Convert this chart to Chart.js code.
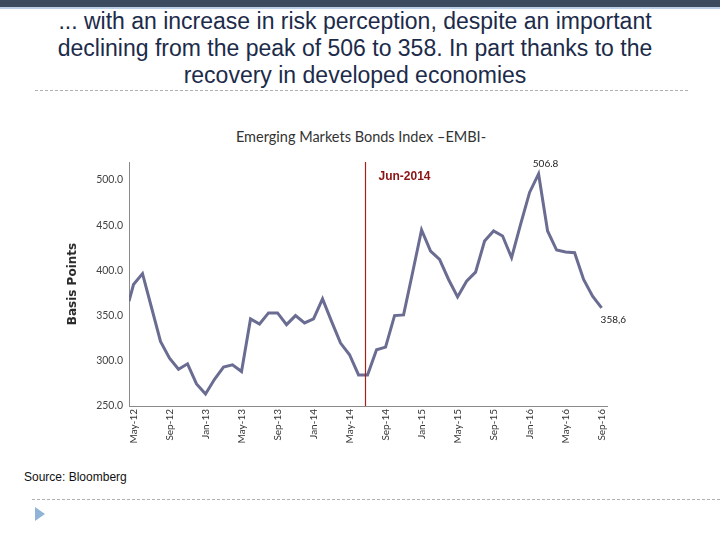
<!DOCTYPE html>
<html lang="en">
<head>
  <meta charset="UTF-8">
  <title>EMBI</title>
  <script src="https://cdn.jsdelivr.net/npm/chart.js"></script>
  <style>
    body { margin: 0; width: 720px; height: 540px; background: #fff; position: relative; overflow: hidden; }
    .topbar { position: absolute; left: 0; top: 0; width: 720px; height: 7px; background: #3d4b5f; border-bottom: 2px solid #b9d0e6; }
    .heading { position: absolute; left: 0; top: 8px; width: 710px; text-align: center;
      font: 23px "Liberation Sans", Arial, sans-serif; line-height: 27px; color: #1c2b4a; }
    .dash { position: absolute; left: 35px; width: 653px; height: 0; border-top: 1px dashed #b0b0b0; }
    .ctitle { position: absolute; left: 0; top: 128px; width: 722px; text-align: center;
      font: 14.5px Lato, sans-serif; color: #333; }
    .source { position: absolute; left: 24px; top: 470px; font: 12px "Liberation Sans", sans-serif; color: #111; }
    .arrow { position: absolute; left: 35px; top: 507px; width: 0; height: 0;
      border-top: 7px solid transparent; border-bottom: 7px solid transparent; border-left: 10px solid #8fb4d8; }
    canvas { position: absolute; left: 0; top: 0; }
  </style>
</head>
<body>
  <div class="topbar"></div>
  <div class="heading">... with an increase in risk perception, despite an important<br>declining from the peak of 506 to 358. In part thanks to the<br>recovery in developed economies</div>
  <div class="dash" style="top:90px"></div>
  <div class="ctitle">Emerging Markets Bonds Index –EMBI-</div>
  <div class="source">Source: Bloomberg</div>
  <div class="dash" style="top:499px; left:32px; width:688px"></div>
  <div class="arrow"></div>
  <canvas id="embiChart" width="720" height="540"></canvas>

  <script>
    // first reading sits half a month before May-12, then monthly to Sep-16
    const embi = [366, 384.4, 396.5, 359, 321.4, 303, 290.7, 296.7, 274.4, 263.3, 279.6, 293, 295.6,
      288.1, 346.3, 340.7, 353, 353, 340, 350, 341.9, 346.3, 368.5, 343.7, 319.6, 306.7, 284.4,
      284.4, 312.2, 315.2, 350, 350.8, 397.4, 444.8, 421.5, 412.2, 390, 370.7, 388.1, 398.1,
      432.6, 443.7, 438.1, 414.1, 451.1, 486.3, 506.8, 443.7, 422.6, 420.4, 419.6, 390, 371.4, 358.6];
    const tickMonths = [0, 4, 8, 12, 16, 20, 24, 28, 32, 36, 40, 44, 48, 52];
    const tickLabels = ['May-12', 'Sep-12', 'Jan-13', 'May-13', 'Sep-13', 'Jan-14', 'May-14',
      'Sep-14', 'Jan-15', 'May-15', 'Sep-15', 'Jan-16', 'May-16', 'Sep-16'];
    const yTicks = [250, 300, 350, 400, 450, 500];
    const markerMonth = 25.75; // Jun-2014
    const peakIndex = 46;

    const points = embi.map((v, i) => ({ x: i === 0 ? -0.5 : i - 1, y: v }));

    const annotations = {
      id: 'annotations',
      afterDatasetsDraw(chart) {
        const ctx = chart.ctx;
        const xs = chart.scales.x, ys = chart.scales.y;
        const area = chart.chartArea;
        ctx.save();
        // Jun-2014 marker
        const mx = Math.round(xs.getPixelForValue(markerMonth)) + 0.5;
        ctx.strokeStyle = '#a3201c';
        ctx.lineWidth = 1.2;
        ctx.beginPath();
        ctx.moveTo(mx, area.top);
        ctx.lineTo(mx, area.bottom);
        ctx.stroke();
        ctx.fillStyle = '#8b1414';
        ctx.font = 'bold 12px "Liberation Sans", Arial, sans-serif';
        ctx.textBaseline = 'middle';
        ctx.textAlign = 'left';
        ctx.fillText('Jun-2014', mx + 13, area.top + 15);
        // value labels
        ctx.fillStyle = '#222';
        ctx.font = '10px Lato, sans-serif';
        const pk = points[peakIndex];
        ctx.textAlign = 'center';
        ctx.fillText('506.8', xs.getPixelForValue(pk.x) + 7, ys.getPixelForValue(pk.y) - 10);
        const last = points[points.length - 1];
        ctx.textAlign = 'left';
        ctx.fillText('358,6', xs.getPixelForValue(last.x) - 1, ys.getPixelForValue(last.y) + 12);
        ctx.restore();
      }
    };

    new Chart(document.getElementById('embiChart'), {
      type: 'line',
      data: {
        datasets: [{
          data: points,
          borderColor: '#6a6c92',
          borderWidth: 3,
          pointRadius: 0,
          tension: 0,
          fill: false
        }]
      },
      options: {
        responsive: false,
        animation: false,
        layout: { padding: { left: 66, right: 113, top: 162, bottom: 94 } },
        plugins: { legend: { display: false }, tooltip: { enabled: false } },
        scales: {
          x: {
            type: 'linear',
            min: -0.5,
            max: 52.6,
            afterBuildTicks: s => { s.ticks = tickMonths.map(v => ({ value: v })); },
            afterFit: s => { s.height = 40; },
            grid: { display: false, drawTicks: false },
            border: { display: true, color: '#8a8a8a' },
            ticks: {
              autoSkip: false,
              minRotation: 90,
              maxRotation: 90,
              padding: 3,
              color: '#333',
              font: { family: 'Lato', size: 10 },
              callback: (v, i) => tickLabels[i]
            }
          },
          y: {
            min: 250,
            max: 520,
            afterBuildTicks: s => { s.ticks = yTicks.map(v => ({ value: v })); },
            afterFit: s => { s.width = 63; },
            grid: { display: false, drawTicks: false },
            border: { display: true, color: '#8a8a8a' },
            title: {
              display: true,
              text: 'Basis Points',
              color: '#2a2a2a',
              padding: 0,
              font: { family: 'DejaVu Sans', weight: 'bold', size: 12 }
            },
            ticks: {
              padding: 6,
              color: '#444',
              font: { family: 'Lato', size: 10.5 },
              callback: v => v.toFixed(1)
            }
          }
        }
      },
      plugins: [annotations]
    });
  </script>
</body>
</html>
